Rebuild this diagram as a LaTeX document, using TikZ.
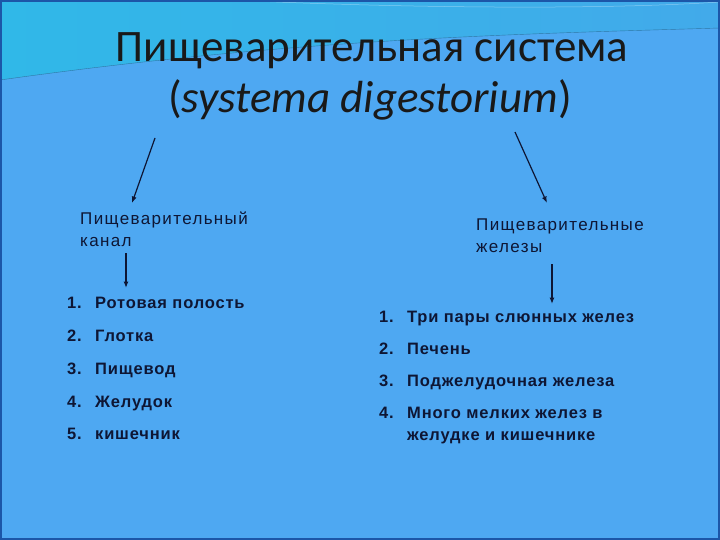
\documentclass[tikz,border=0pt]{standalone}
\usepackage{fontspec}
\setmainfont{Carlito}
\newfontfamily\headfamily[LetterSpace=8]{Liberation Sans}
\newfontfamily\itemfamily[LetterSpace=5]{Liberation Sans}
\usetikzlibrary{arrows.meta}

\definecolor{slidebg}{RGB}{78,168,242}
\definecolor{wavecyan}{RGB}{48,184,232}
\definecolor{waveblue}{RGB}{66,170,234}
\definecolor{slideedge}{RGB}{28,86,168}
\definecolor{ink}{RGB}{14,22,52}

\tikzset{
	titlefont/.style={font=\fontsize{45}{51}\selectfont, text=black!90, inner sep=0pt, anchor=base},
	headfont/.style={font=\headfamily\fontsize{17}{22}\selectfont, text=ink, inner sep=0pt, anchor=base west},
	itemfont/.style={font=\itemfamily\bfseries\fontsize{16.5}{20}\selectfont, text=ink, inner sep=0pt, anchor=base west},
	arr/.style={-{Latex[length=6.5pt,width=5pt]}, line width=1.2pt, draw=ink},
}

\begin{document}
\begin{tikzpicture}[x=1pt,y=-1pt]
			% slide background
			\useasboundingbox (0,0) rectangle (720,540);
			\fill[slidebg] (0,0) rectangle (720,540);
			\shade[left color=wavecyan, right color=waveblue] (0,0) -- (720,0) -- (720,28) .. controls (520,34) and (300,38) .. (0,80) -- cycle;
			\draw[waveblue!70!black, line width=0.4pt] (0,80) .. controls (300,38) and (520,34) .. (720,28);
			\draw[white!60!waveblue, line width=0.5pt, opacity=0.6] (230,0) .. controls (400,8) and (600,10) .. (720,2);
			\draw[slideedge, line width=2pt] (1,1) rectangle (719,539);

			% title
			\draw (372,62) node[titlefont] (title) {Пищеварительная система};
			\draw (370,113) node[titlefont] (subtitle) {(\textit{systema digestorium})};

			% headers
			\draw (80,225) node[headfont] (canal) {Пищеварительный};
			\draw (80,247) node[headfont] (canal2) {канал};
			\draw (476,230) node[headfont] (glands) {Пищеварительные};
			\draw (476,252) node[headfont] (glands2) {железы};

			% arrows
			\coordinate (tl) at (155,138);
			\coordinate (tlend) at (132,203);
			\coordinate (tr) at (515,132);
			\coordinate (trend) at (547,203);
			\coordinate (cl) at (126,253);
			\coordinate (clend) at (126,288);
			\coordinate (gr) at (552,264);
			\coordinate (grend) at (552,304);
			\draw[arr] (tl) -- (tlend);
			\draw[arr] (tr) -- (trend);
			\draw[arr] (cl) -- (clend);
			\draw[arr] (gr) -- (grend);

			% left list
			\foreach \n/\t/\y in {1/Ротовая полость/308, 2/Глотка/341, 3/Пищевод/374, 4/Желудок/407, 5/кишечник/439}{
				\draw (67,\y) node[itemfont] (ln\n) {\n.};
				\draw (95,\y) node[itemfont] (lt\n) {\t};
			}

			% right list
			\foreach \n/\t/\y in {1/Три пары слюнных желез/322, 2/Печень/354, 3/Поджелудочная железа/386, 4/Много мелких желез в/418}{
				\draw (379,\y) node[itemfont] (rn\n) {\n.};
				\draw (407,\y) node[itemfont] (rt\n) {\t};
			}
			\draw (407,440) node[itemfont] (rt5) {желудке и кишечнике};
		\end{tikzpicture}
\end{document}
